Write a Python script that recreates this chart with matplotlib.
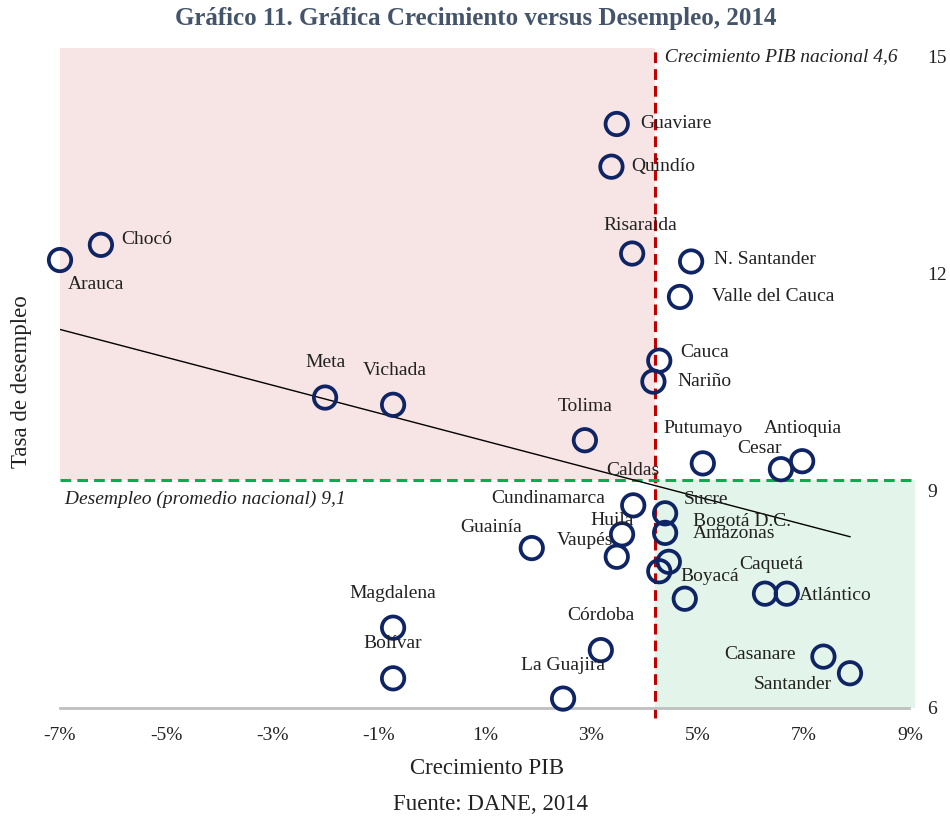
import matplotlib
matplotlib.use("Agg")
import matplotlib.pyplot as plt
import numpy as np

plt.rcParams['font.family'] = ['Liberation Serif', 'DejaVu Serif']

# ---- data ----
departamentos = ["Arauca", "Chocó", "Meta", "Vichada", "Tolima", "Magdalena", "Bolívar",
                 "Córdoba", "La Guajira", "Guainía", "Guaviare", "Quindío", "Risaralda",
                 "N. Santander", "Valle del Cauca", "Cauca", "Nariño", "Putumayo",
                 "Antioquia", "Cesar", "Cundinamarca", "Sucre", "Huila", "Bogotá D.C.",
                 "Vaupés", "Amazonas", "Caldas", "Boyacá", "Caquetá", "Atlántico",
                 "Casanare", "Santander"]
crecimiento_pib = [-7.00, -6.23, -2.01, -0.73, 2.88, -0.73, -0.73,
                   3.18, 2.47, 1.88, 3.48, 3.38, 3.77,
                   4.88, 4.67, 4.28, 4.17, 5.10,
                   6.97, 6.57, 3.79, 4.39, 3.58, 4.39,
                   3.48, 4.46, 4.28, 4.76, 6.27, 6.68,
                   7.37, 7.87]
desempleo = [12.19, 12.40, 10.29, 10.19, 9.70, 7.11, 6.41,
             6.80, 6.13, 8.21, 14.07, 13.48, 12.28,
             12.17, 11.68, 10.80, 10.51, 9.38,
             9.41, 9.30, 8.80, 8.69, 8.40, 8.42,
             8.09, 8.02, 7.89, 7.51, 7.58, 7.58,
             6.71, 6.48]
pib_nacional_pos = 4.20
desempleo_nacional = 9.15
x_ticks = [-7, -5, -3, -1, 1, 3, 5, 7, 9]
y_ticks = [6, 9, 12, 15]

# ---- label placement (offset pixels, ha) ----
label_pos = {
    "Guaviare": (23, 0, "left"), "Quindío": (20, 0, "left"),
    "Risaralda": (8, 28, "center"), "N. Santander": (23, 2, "left"),
    "Valle del Cauca": (32, 0, "left"), "Cauca": (21, 8, "left"),
    "Nariño": (24, 0, "left"), "Chocó": (20, 5, "left"),
    "Arauca": (8, -24, "left"), "Meta": (0, 35, "center"),
    "Vichada": (2, 34, "center"), "Tolima": (0, 34, "center"),
    "Putumayo": (0, 35, "center"), "Antioquia": (1, 33, "center"),
    "Cesar": (-21, 21, "center"), "Caldas": (-26, 101, "center"),
    "Cundinamarca": (-28, 7, "right"), "Sucre": (19, 14, "left"),
    "Huila": (-10, 14, "center"), "Bogotá D.C.": (28, 11, "left"),
    "Amazonas": (24, 28, "left"), "Guainía": (-41, 21, "center"),
    "Vaupés": (-32, 16, "center"), "Boyacá": (-4, 22, "left"),
    "Caquetá": (6, 29, "center"), "Atlántico": (12, -2, "left"),
    "Casanare": (-28, 2, "right"), "Santander": (-18, -11, "right"),
    "Magdalena": (0, 34, "center"), "Bolívar": (0, 35, "center"),
    "Córdoba": (0, 35, "center"), "La Guajira": (0, 33, "center"),
}

W, H = 950, 819
fig = plt.figure(figsize=(W / 100, H / 100), dpi=100)
ax = fig.add_axes([60 / W, (H - 708) / H, (915 - 60) / W, (708 - 48) / H])

xmin, xmax = -7, 9.094
ymin, ymax = 6, 15.12
ax.set_xlim(xmin, xmax)
ax.set_ylim(ymin, ymax)

# quadrant shading
ax.fill_between([xmin, pib_nacional_pos], desempleo_nacional, ymax, color="#F7E4E4", zorder=0, lw=0)
ax.fill_between([pib_nacional_pos, xmax], ymin, desempleo_nacional, color="#E3F5EA", zorder=0, lw=0)

# reference lines
ax.plot([pib_nacional_pos, pib_nacional_pos], [5.86, ymax], color="#C00000", lw=2.2,
        ls=(0, (3.5, 2)), clip_on=False, zorder=2)
ax.axhline(desempleo_nacional, color="#00B050", lw=2.2, ls=(0, (3.5, 2)), zorder=2)

# trendline
coef = np.polyfit(crecimiento_pib, desempleo, 1)
xt = np.array([min(crecimiento_pib), max(crecimiento_pib)])
ax.plot(xt, np.polyval(coef, xt), color="black", lw=1.0, zorder=3)

# points
ax.scatter(crecimiento_pib, desempleo, s=260, facecolors="none", edgecolors="#0E2465",
           linewidths=2.7, zorder=4, clip_on=False)

for name, x, y in zip(departamentos, crecimiento_pib, desempleo):
    dx, dy, ha = label_pos[name]
    ax.annotate(name, (x, y), xytext=(dx, dy), textcoords="offset pixels",
                ha=ha, va="center", fontsize=14, color="#222222", zorder=5)

ax.text(pib_nacional_pos, 15.0, "  Crecimiento PIB nacional 4,6", style="italic",
        fontsize=14, color="#222222", ha="left", va="center")
ax.text(-7, desempleo_nacional - 0.27, " Desempleo (promedio nacional) 9,1", style="italic",
        fontsize=14, color="#222222", ha="left", va="center")

# axes styling
for s in ["top", "left", "right"]:
    ax.spines[s].set_visible(False)
ax.spines["bottom"].set_color("#BFBFBF")
ax.spines["bottom"].set_linewidth(2)
ax.spines["bottom"].set_bounds(xmin, 8.98)

ax.set_xticks(x_ticks)
ax.set_xticklabels([f"{t}%" for t in x_ticks])
ax.yaxis.tick_right()
ax.set_yticks(y_ticks)
ax.tick_params(axis="both", length=0, labelsize=14, colors="#222222")
ax.tick_params(axis="x", pad=14)
ax.tick_params(axis="y", pad=9)

fig.text(487 / W, 1 - 768 / H, "Crecimiento PIB", ha="center", va="center", fontsize=16.5, color="#222222")
fig.text(22 / W, 1 - 382 / H, "Tasa de desempleo", ha="center", va="center", rotation=90,
         fontsize=16.5, color="#222222")
fig.text(490 / W, 1 - 805 / H, "Fuente: DANE, 2014", ha="center", va="center", fontsize=16.5, color="#222222")
fig.text(476 / W, 1 - 19 / H, "Gráfico 11. Gráfica Crecimiento versus Desempleo, 2014",
         ha="center", va="center", fontsize=18, fontweight="bold", color="#44546A")

fig.savefig("out.png", dpi=100)
